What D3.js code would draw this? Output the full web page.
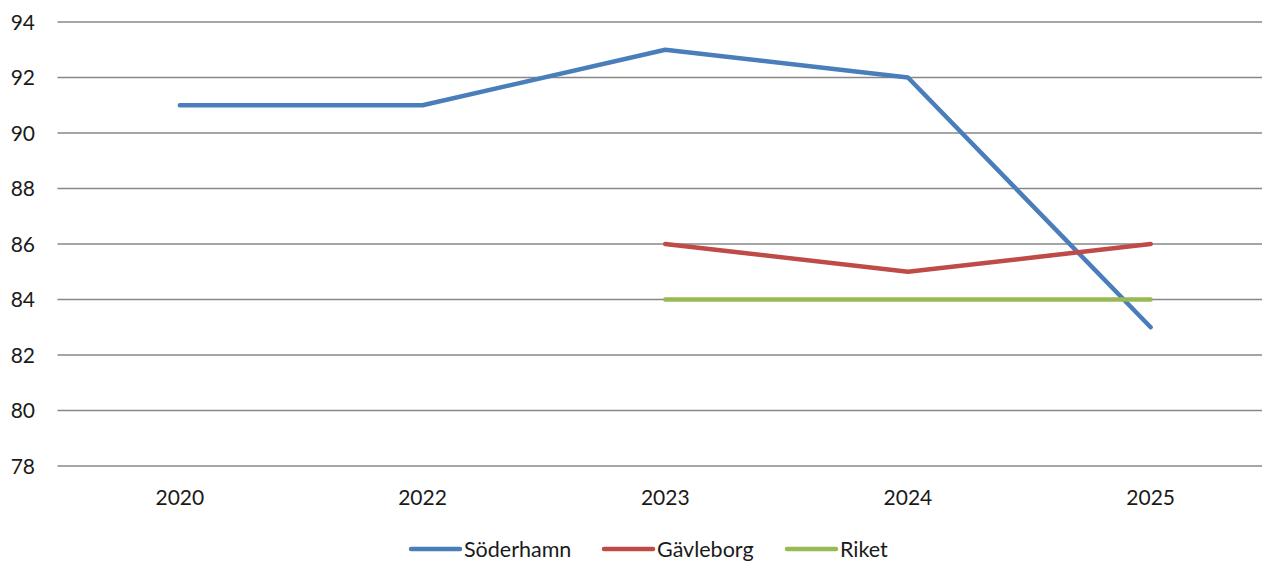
<!DOCTYPE html>
<html lang="en">
<head>
<meta charset="UTF-8">
<title>Chart</title>
<style>
    body { margin: 0; background: #fff; }
    text { font-family: Lato, "Open Sans", sans-serif; fill: #1a1a1a; }
    .grid line { stroke: #878787; stroke-width: 1.6px; }
    .series { fill: none; stroke-width: 4.5px; stroke-linecap: round; stroke-linejoin: round; }
</style>
</head>
<body>
<svg width="1262" height="562"></svg>
<script src="https://d3js.org/d3.v7.min.js"></script>
<script>
    var years = ["2020", "2022", "2023", "2024", "2025"];
    var soderhamn = [91, 91, 93, 92, 83];
    var gavleborg = [null, null, 86, 85, 86];
    var riket = [null, null, 84, 84, 84];
    var yTicks = [78, 80, 82, 84, 86, 88, 90, 92, 94];

    var series = [
        { name: "Söderhamn", values: soderhamn, color: "#4a7ebb" },
        { name: "Gävleborg", values: gavleborg, color: "#be4b48" },
        { name: "Riket", values: riket, color: "#98b954" }
    ];

    var svg = d3.select("svg");

    var x = d3.scaleBand().domain(years).range([58.5, 1272]);
    var y = d3.scaleLinear().domain([78, 94]).range([466, 22]);

    // gridlines
    svg.append("g").attr("class", "grid")
        .selectAll("line")
        .data(yTicks)
        .enter()
        .append("line")
        .attr("x1", 57.5)
        .attr("x2", 1262)
        .attr("y1", (d) => y(d))
        .attr("y2", (d) => y(d));

    // y labels
    svg.append("g")
        .selectAll("text")
        .data(yTicks)
        .enter()
        .append("text")
        .attr("x", 35)
        .attr("y", (d) => y(d) + 7.5)
        .attr("text-anchor", "end")
        .style("font-size", "21px")
        .text((d) => d);

    // x labels
    svg.append("g")
        .selectAll("text")
        .data(years)
        .enter()
        .append("text")
        .attr("x", (d) => x(d) + x.bandwidth() / 2)
        .attr("y", 505)
        .attr("text-anchor", "middle")
        .style("font-size", "21px")
        .text((d) => d);

    var line = d3.line()
        .defined((d) => d != null)
        .x((d, i) => x(years[i]) + x.bandwidth() / 2)
        .y((d) => y(d));

    svg.append("g")
        .selectAll("path")
        .data(series)
        .enter()
        .append("path")
        .attr("class", "series")
        .attr("stroke", (d) => d.color)
        .attr("d", (d) => line(d.values));

    // legend
    var legendX = [411, 604, 787];
    var leg = svg.append("g")
        .selectAll("g")
        .data(series)
        .enter()
        .append("g")
        .attr("transform", (d, i) => "translate(" + legendX[i] + ",549)");
    leg.append("line")
        .attr("x1", 0).attr("x2", 49)
        .attr("stroke", (d) => d.color)
        .attr("stroke-width", 4.5)
        .attr("stroke-linecap", "round");
    leg.append("text")
        .attr("x", 53)
        .attr("y", 7.5)
        .style("font-size", "21.5px")
        .text((d) => d.name);
</script>
</body>
</html>
